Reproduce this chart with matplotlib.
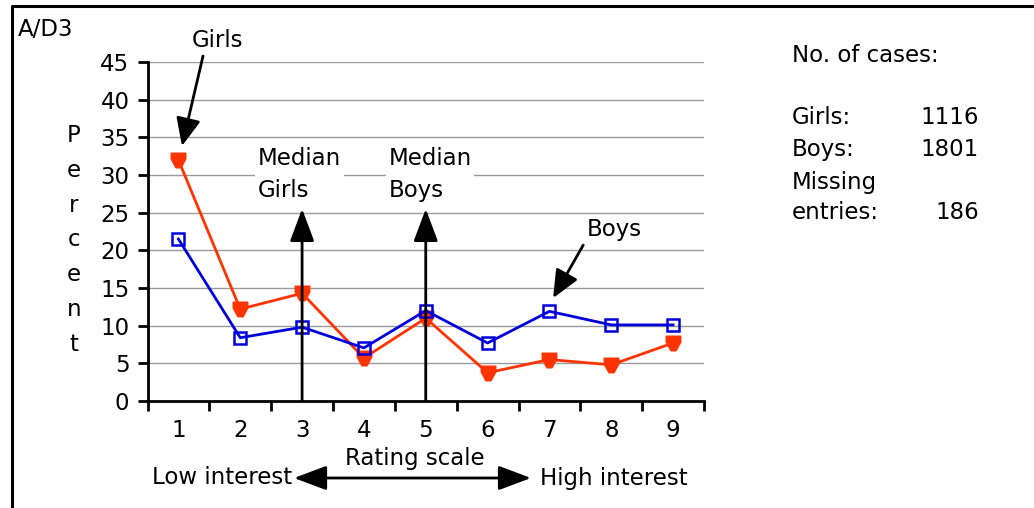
import matplotlib
matplotlib.use("Agg")
import matplotlib.pyplot as plt
from matplotlib.path import Path
from matplotlib.lines import Line2D
from matplotlib.patches import FancyArrowPatch

# ---- data ----
categories = [1, 2, 3, 4, 5, 6, 7, 8, 9]
girls = [32.0, 12.2, 14.3, 5.7, 11.0, 3.75, 5.5, 4.8, 7.7]
boys = [21.5, 8.4, 9.8, 7.05, 12.0, 7.7, 11.9, 10.1, 10.1]
y_ticks = [0, 5, 10, 15, 20, 25, 30, 35, 40, 45]
median_girls = 3
median_boys = 5
cases_labels = ["Girls:", "Boys:", "Missing", "entries:"]
cases_values = ["1116", "1801", "", "186"]

W, H = 1034, 508
FS = 16.5
RED = "#FF3300"
BLUE = "#0000DD"

fig = plt.figure(figsize=(W / 100, H / 100), dpi=100)


def P(x, y):
    return (x / W, 1 - y / H)


ax = fig.add_axes([147.5 / W, (H - 401) / H, (704 - 147.5) / W, (401 - 62) / H])
ax.set_xlim(0.5, 9.5)
ax.set_ylim(0, 45)

for s in ["top", "right"]:
    ax.spines[s].set_visible(False)
for s in ["left", "bottom"]:
    ax.spines[s].set_linewidth(2.0)
    ax.spines[s].set_color("black")

# gridlines
for yv in y_ticks[1:]:
    ax.axhline(yv, color="#9a9a9a", lw=1.0, zorder=0)

ax.set_yticks(y_ticks)
ax.set_yticklabels([str(v) for v in y_ticks], fontsize=FS)
ax.tick_params(axis="y", direction="out", length=7, width=2.0, pad=6)

# x: major ticks at boundaries (unlabelled), labels at centers via minor ticks
ax.set_xticks([c - 0.5 for c in categories] + [categories[-1] + 0.5])
ax.set_xticklabels([])
ax.tick_params(axis="x", which="major", direction="out", length=7, width=2.0)
ax.set_xticks(categories, minor=True)
ax.set_xticklabels([str(c) for c in categories], minor=True, fontsize=FS)
ax.tick_params(axis="x", which="minor", length=0, pad=13)

# shield-shaped marker for girls
shield = Path([(-1, 1), (1, 1), (1, 0.2), (0.35, -1), (-0.35, -1), (-1, 0.2), (-1, 1)],
              [Path.MOVETO] + [Path.LINETO] * 5 + [Path.CLOSEPOLY])

ax.plot(categories, girls, color=RED, lw=2.0, marker=shield, markersize=10.5,
        markerfacecolor=RED, markeredgecolor=RED, zorder=3, clip_on=False)
ax.plot(categories, boys, color=BLUE, lw=2.0, marker="s", markersize=8.5,
        markerfacecolor="none", markeredgecolor=BLUE, markeredgewidth=1.8,
        zorder=4, clip_on=False)

arrow_kw = dict(arrowstyle="-|>,head_length=20,head_width=7.5", color="black",
                lw=2.0, mutation_scale=1, shrinkA=0, shrinkB=0)

# median arrows
ax.annotate("", xy=(median_girls, 25.5), xytext=(median_girls, 0),
            arrowprops=arrow_kw, zorder=6)
ax.annotate("", xy=(median_boys, 25.5), xytext=(median_boys, 0),
            arrowprops=arrow_kw, zorder=6)

box = dict(facecolor="white", edgecolor="none", pad=2)
ax.text(2.29, 30.1, "Median\nGirls", fontsize=FS, ha="left", va="center",
        linespacing=1.5, bbox=box, zorder=2)
ax.text(4.395, 30.1, "Median\nBoys", fontsize=FS, ha="left", va="center",
        linespacing=1.5, bbox=box, zorder=2)

# Girls / Boys pointers
ax.text(1.625, 47.9, "Girls", fontsize=FS, ha="center", va="center", clip_on=False)
ax.annotate("", xy=(1.058, 33.85), xytext=(1.398, 45.8),
            arrowprops=dict(arrow_kw, arrowstyle="-|>,head_length=17,head_width=7.5"),
            annotation_clip=False, zorder=6)
ax.text(8.05, 22.7, "Boys", fontsize=FS, ha="center", va="center")
ax.annotate("", xy=(7.06, 13.67), xytext=(7.547, 20.7),
            arrowprops=dict(arrow_kw, arrowstyle="-|>,head_length=17,head_width=7.5"),
            zorder=6)

# vertical stacked y label
fig.text(*P(74, 240), "P\ne\nr\nc\ne\nn\nt", fontsize=FS, ha="center",
         va="center", linespacing=1.66)

fig.text(*P(18, 30), "A/D3", fontsize=FS, ha="left", va="center")

# rating scale
fig.text(*P(415, 459), "Rating scale", fontsize=FS, ha="center", va="center")
fig.text(*P(292, 478), "Low interest", fontsize=FS, ha="right", va="center")
fig.text(*P(540, 478), "High interest", fontsize=FS, ha="left", va="center")
fig.patches.append(FancyArrowPatch(
    P(294, 478), P(531, 478), transform=fig.transFigure,
    arrowstyle="<|-|>,head_length=20,head_width=7.5", mutation_scale=1,
    color="black", lw=2.0, shrinkA=0, shrinkB=0))

# cases panel
fig.text(*P(792, 55), "No. of cases:", fontsize=FS, ha="left", va="center")
ys = [118, 150, 182, 213]
for lab, val, yy in zip(cases_labels, cases_values, ys):
    fig.text(*P(792, yy), lab, fontsize=FS, ha="left", va="center")
    if val:
        fig.text(*P(979, yy), val, fontsize=FS, ha="right", va="center")

# frame
fig.add_artist(Line2D([12 / W, 12 / W, 1.0], [0.0, 1 - 6 / H, 1 - 6 / H],
                      transform=fig.transFigure, color="black", lw=2.2))

fig.savefig("out.png", dpi=100)
